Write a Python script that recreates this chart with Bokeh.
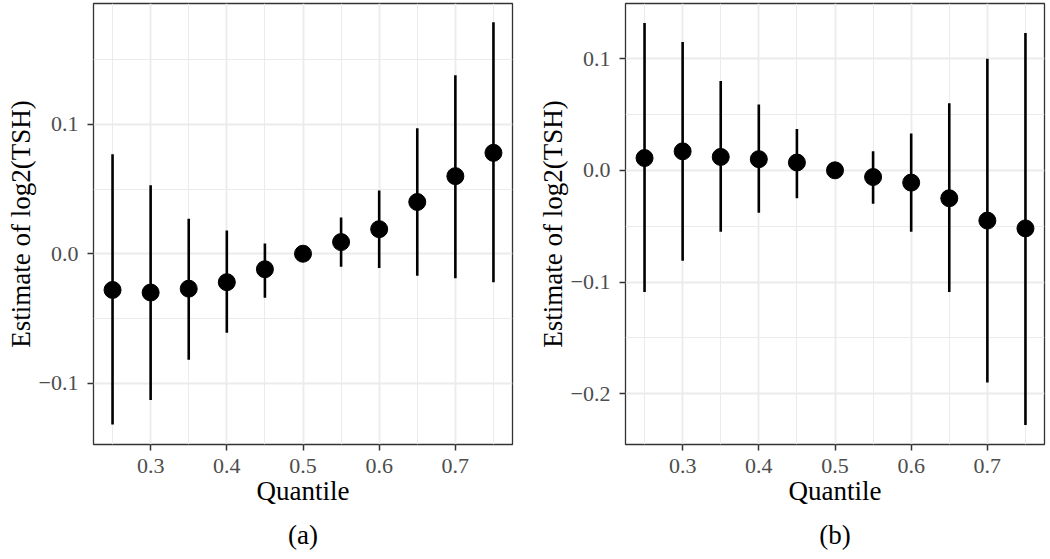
from bokeh.plotting import figure
from bokeh.layouts import row
from bokeh.models import FixedTicker, Range1d, Title, ColumnDataSource
from bokeh.embed import file_html
from bokeh.resources import INLINE

# ---- data ----
quantiles = [0.25, 0.30, 0.35, 0.40, 0.45, 0.50, 0.55, 0.60, 0.65, 0.70, 0.75]

a_est = [-0.028, -0.030, -0.027, -0.022, -0.012, 0.000, 0.009, 0.019, 0.040, 0.060, 0.078]
a_lo = [-0.132, -0.113, -0.082, -0.061, -0.034, 0.000, -0.010, -0.011, -0.017, -0.019, -0.022]
a_hi = [0.077, 0.053, 0.027, 0.018, 0.008, 0.000, 0.028, 0.049, 0.097, 0.138, 0.179]

b_est = [0.011, 0.017, 0.012, 0.010, 0.007, 0.000, -0.006, -0.011, -0.025, -0.045, -0.052]
b_lo = [-0.109, -0.081, -0.055, -0.038, -0.025, 0.000, -0.030, -0.055, -0.109, -0.190, -0.228]
b_hi = [0.132, 0.115, 0.080, 0.059, 0.037, 0.000, 0.017, 0.033, 0.060, 0.100, 0.123]

x_ticks = [0.3, 0.4, 0.5, 0.6, 0.7]
x_tick_labels = ["0.3", "0.4", "0.5", "0.6", "0.7"]
x_minor = [0.25, 0.35, 0.45, 0.55, 0.65, 0.75]

a_y_ticks = [-0.1, 0.0, 0.1]
a_y_tick_labels = ["\u22120.1", "0.0", "0.1"]
a_y_minor = [-0.05, 0.05, 0.15]

b_y_ticks = [-0.2, -0.1, 0.0, 0.1]
b_y_tick_labels = ["\u22120.2", "\u22120.1", "0.0", "0.1"]
b_y_minor = [-0.15, -0.05, 0.05]

x_title = "Quantile"
y_title = "Estimate of log2(TSH)"

FONT = "Liberation Serif"
GRID = "#EBEBEB"
DARK = "#333333"


def make_panel(est, lo, hi, yr, yt, ytl, ym, caption, width, mbl, mbr):
    p = figure(width=width, height=559, output_backend="svg", toolbar_location=None,
               x_range=Range1d(0.225, 0.775), y_range=Range1d(*yr),
               min_border_left=mbl, min_border_right=mbr, min_border_top=3,
               min_border_bottom=115)
    p.background_fill_color = "white"
    p.border_fill_color = "white"
    p.outline_line_color = DARK
    p.outline_line_width = 1.3

    p.xaxis.ticker = FixedTicker(ticks=x_ticks, minor_ticks=x_minor)
    p.yaxis.ticker = FixedTicker(ticks=yt, minor_ticks=ym)
    p.xaxis.major_label_overrides = dict(zip(x_ticks, x_tick_labels))
    p.yaxis.major_label_overrides = dict(zip(yt, ytl))

    for ax in (p.xaxis, p.yaxis):
        ax.axis_line_color = None
        ax.major_tick_in = 0
        ax.major_tick_out = 6
        ax.major_tick_line_color = DARK
        ax.major_tick_line_width = 1.5
        ax.minor_tick_line_color = None
        ax.major_label_text_font = FONT
        ax.major_label_text_font_size = "22px"
        ax.major_label_text_color = "#4D4D4D"
        ax.axis_label_text_font = FONT
        ax.axis_label_text_font_size = "27px"
        ax.axis_label_text_font_style = "normal"
        ax.axis_label_text_color = "black"
    p.xaxis.axis_label = x_title
    p.yaxis.axis_label = y_title
    p.xaxis.major_label_standoff = 8
    p.yaxis.major_label_standoff = 9
    p.xaxis.axis_label_standoff = 0
    p.yaxis.axis_label_standoff = 0

    for g in (p.xgrid, p.ygrid):
        g.grid_line_color = GRID
        g.grid_line_width = 1.8
        g.minor_grid_line_color = GRID
        g.minor_grid_line_width = 1.0

    src = ColumnDataSource(dict(q=quantiles, est=est, lo=lo, hi=hi))
    p.segment(x0="q", y0="lo", x1="q", y1="hi", source=src, line_color="black", line_width=2.6)
    p.scatter(x="q", y="est", source=src, size=17, fill_color="black", line_color="black")

    t = Title(text=caption, align="center", text_font=FONT, text_font_size="27px",
              text_font_style="normal", text_color="black", standoff=18)
    p.add_layout(t, "below")
    return p


pa = make_panel(a_est, a_lo, a_hi, (-0.1475, 0.1935), a_y_ticks, a_y_tick_labels, a_y_minor,
                "(a)", 525, 93, 13)
pb = make_panel(b_est, b_lo, b_hi, (-0.2455, 0.1494), b_y_ticks, b_y_tick_labels, b_y_minor,
                "(b)", 521, 100, 2)

layout = row(pa, pb)
open("out.html", "w").write(file_html(layout, INLINE))
